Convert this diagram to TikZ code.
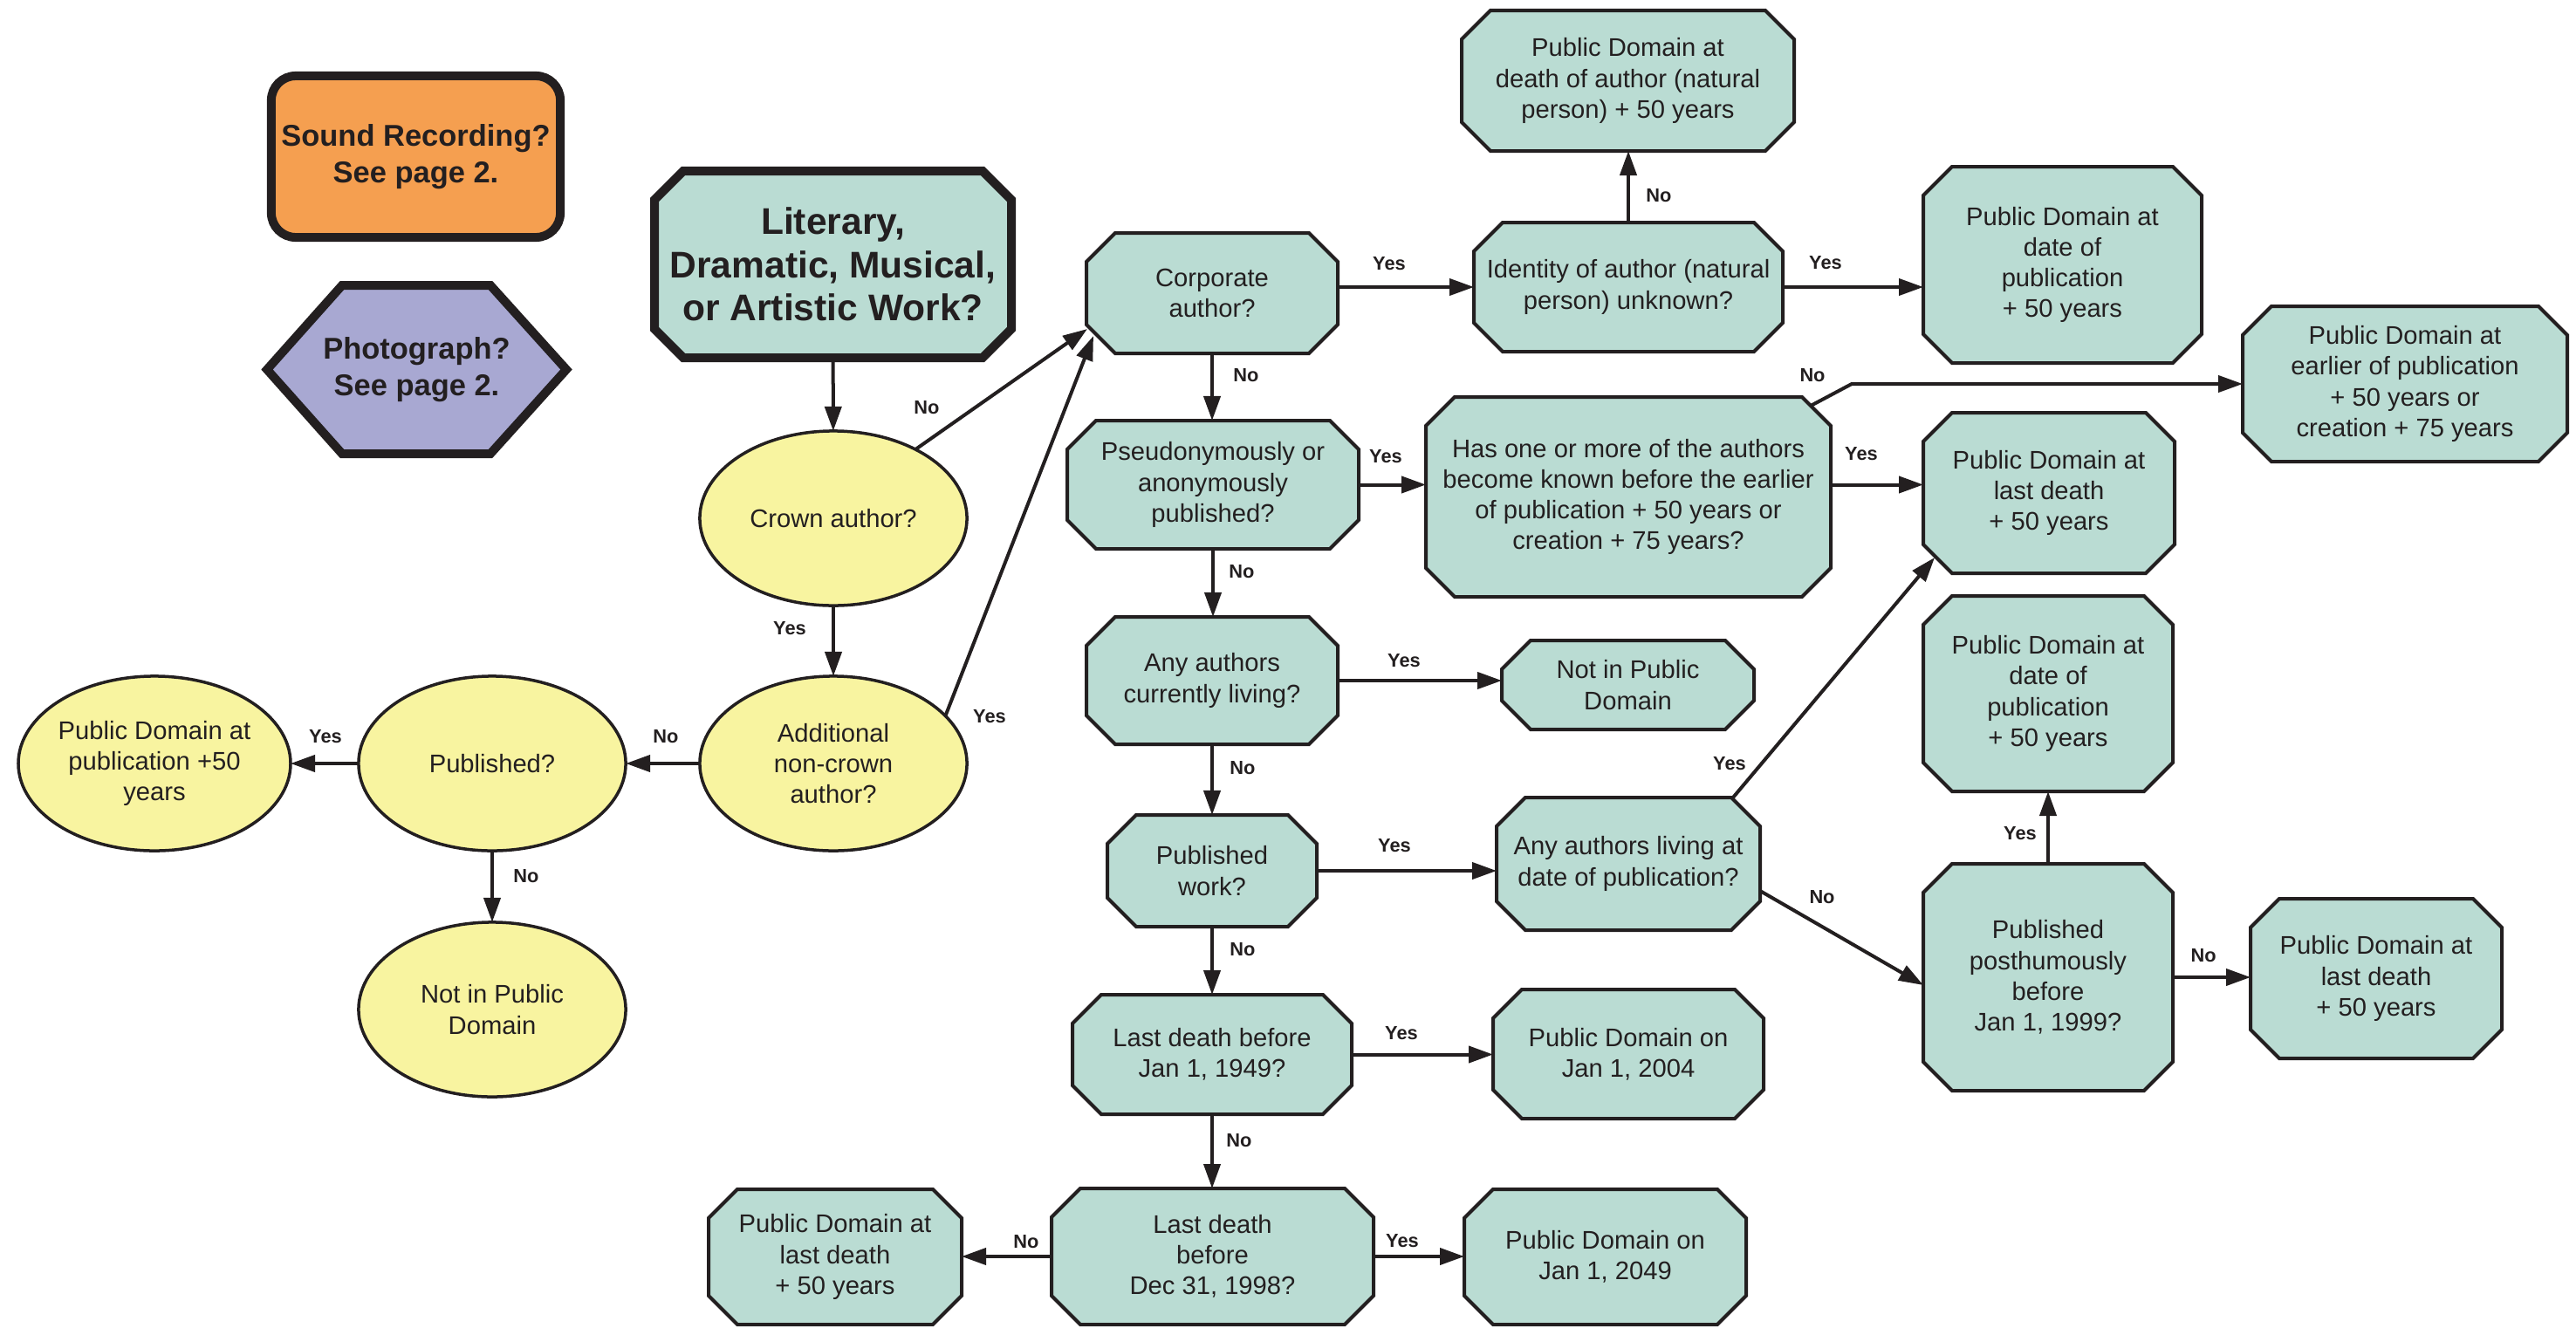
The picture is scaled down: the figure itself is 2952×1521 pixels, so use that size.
\documentclass[tikz,border=0pt]{standalone}
\usepackage{fontspec}
\setmainfont{Liberation Sans}
\usetikzlibrary{arrows.meta,shapes.geometric,calc}
\definecolor{boxg}{RGB}{186,220,211}
\definecolor{elly}{RGB}{248,244,160}
\definecolor{orng}{RGB}{245,159,80}
\definecolor{purp}{RGB}{168,168,210}
\definecolor{ink}{RGB}{35,31,32}
\newcommand{\octbox}[7][]{%
  \path[octo,#1] (#3+33,#4) -- (#5-33,#4) -- (#5,#4+33) -- (#5,#6-33) -- (#5-33,#6) -- (#3+33,#6) -- (#3,#6-33) -- (#3,#4+33) -- cycle;
  \node[boxtxt,#1,minimum width={(#5-#3)*0.01cm},minimum height={(#6-#4)*0.01cm}] (#2) at ({(#3+#5)/2},{(#4+#6)/2}) {#7};%
}
\begin{document}
\begin{tikzpicture}[x=0.01cm,y=-0.01cm,
  octo/.style={draw=ink,line width=0.04cm,fill=boxg,line join=miter},
  boxtxt/.style={inner sep=0pt,outer sep=0pt,align=center,text=ink,font=\fontsize{8.3}{10}\selectfont},
  ell/.style={ellipse,draw=ink,line width=0.035cm,fill=elly,minimum width=3.06cm,minimum height=2.0cm,inner sep=0pt,outer sep=0pt,align=center,text=ink,font=\fontsize{8.3}{10}\selectfont},
  arr/.style={draw=ink,line width=0.04cm,-{Triangle[length=0.28cm,width=0.19cm]}},
  lbl/.style={font=\bfseries\fontsize{6.2}{7}\selectfont,text=ink,inner sep=0pt},
  bigtxt/.style={font=\bfseries\fontsize{9.8}{12}\selectfont}
]
\useasboundingbox (0,0) rectangle (2952,1521);

% left-top legend shapes
\node[draw=ink,line width=0.1cm,fill=orng,rounded corners=0.28cm,minimum width=3.31cm,minimum height=1.85cm,inner sep=0pt,align=center,text=ink,bigtxt] (sound) at (476.5,179.5) {Sound Recording?\\See page 2.};
\path[draw=ink,line width=0.1cm,fill=purp,line join=miter] (306,423.5) -- (392,327) -- (562,327) -- (649,423.5) -- (562,520) -- (392,520) -- cycle;
\node[boxtxt,bigtxt] (photo) at (477.5,424) {Photograph?\\See page 2.};

% start box
\octbox[line width=0.1cm,font=\bfseries\fontsize{12.1}{14}\selectfont]{lit}{750}{196}{1159}{410}{Literary,\\Dramatic, Musical,\\or Artistic Work?}

% ellipses
\node[ell] (crown) at (955,594) {Crown author?};
\node[ell] (addl) at (955,875) {Additional\\non-crown\\author?};
\node[ell] (pubq) at (564,875) {Published?};
\node[ell] (pdpub) at (177,875) {Public Domain at\\publication +50\\years};
\node[ell] (notpdA) at (564,1157) {Not in Public\\Domain};

% octagon boxes
\octbox{death}{1675}{12}{2056}{173}{Public Domain at\\death of author (natural\\person) + 50 years}
\octbox{ident}{1689}{255}{2043}{403}{Identity of author (natural\\person) unknown?}
\octbox{datepubA}{2204}{191}{2523}{416}{Public Domain at\\date of\\publication\\+ 50 years}
\octbox{earlier}{2570}{351}{2942}{529}{Public Domain at\\earlier of publication\\+ 50 years or\\creation + 75 years}
\octbox{corp}{1245}{267}{1533}{405}{Corporate\\author?}
\octbox{pseud}{1223}{482}{1557}{629}{Pseudonymously or\\anonymously\\published?}
\octbox{has}{1634}{455}{2098}{684}{Has one or more of the authors\\become known before the earlier\\of publication + 50 years or\\creation + 75 years?}
\octbox{lastdA}{2204}{473}{2492}{657}{Public Domain at\\last death\\+ 50 years}
\octbox{anyliv}{1245}{707}{1533}{853}{Any authors\\currently living?}
\octbox{notpdB}{1721}{734}{2010}{836}{Not in Public\\Domain}
\octbox{datepubB}{2204}{683}{2490}{907}{Public Domain at\\date of\\publication\\+ 50 years}
\octbox{pubwork}{1269}{934}{1509}{1062}{Published\\work?}
\octbox{livdate}{1715}{914}{2017}{1066}{Any authors living at\\date of publication?}
\octbox{posth}{2204}{990}{2490}{1250}{Published\\posthumously\\before\\Jan 1, 1999?}
\octbox{lastdB}{2579}{1030}{2867}{1213}{Public Domain at\\last death\\+ 50 years}
\octbox{ldA}{1229}{1140}{1549}{1277}{Last death before\\Jan 1, 1949?}
\octbox{pdA}{1711}{1134}{2021}{1282}{Public Domain on\\Jan 1, 2004}
\octbox{ldB}{1205}{1362}{1574}{1518}{Last death\\before\\Dec 31, 1998?}
\octbox{pdB}{1678}{1363}{2001}{1518}{Public Domain on\\Jan 1, 2049}
\octbox{lastdC}{812}{1363}{1102}{1518}{Public Domain at\\last death\\+ 50 years}

% connectors
\draw[arr] (lit) -- (crown);
\draw[arr] (crown) -- (addl);
\draw[arr] (addl) -- (pubq);
\draw[arr] (pubq) -- (pdpub);
\draw[arr] (pubq) -- (notpdA);
\coordinate (corpA) at ([shift={(1,-28)}]corp.south west);
\coordinate (corpB) at ([shift={(8,-20)}]corp.south west);
\draw[arr] (crown.40) -- (corpA);
\draw[arr] (addl.23) -- (corpB);
\draw[arr] (corp.east |- ident.west) -- (ident.west);
\draw[arr] (ident.north) -- (ident.north |- death.south);
\draw[arr] (ident.east) -- (ident.east -| datepubA.west);
\draw[arr] (corp.south) -- (corp.south |- pseud.north);
\draw[arr] (pseud.east) -- (pseud.east -| has.west);
\coordinate (hasNE) at ([shift={(-23,10)}]has.north east);
\draw[arr] (hasNE) -- ($(earlier.west)+(-448,0)$) -- (earlier.west);
\draw[arr] (has.east |- pseud.east) -- (lastdA.west |- pseud.east);
\draw[arr] (pseud.south) -- (pseud.south |- anyliv.north);
\draw[arr] (anyliv.east) -- (anyliv.east -| notpdB.west);
\draw[arr] (anyliv.south) -- (anyliv.south |- pubwork.north);
\draw[arr] (pubwork.east) -- (pubwork.east -| livdate.west);
\coordinate (livNE) at ([shift={(-31,0)}]livdate.north east);
\coordinate (lastdAsw) at ([shift={(13,-18)}]lastdA.south west);
\draw[arr] (livNE) -- (lastdAsw);
\coordinate (livE) at ([shift={(0,31)}]livdate.east);
\coordinate (posthW) at ([shift={(0,9)}]posth.west);
\draw[arr] (livE) -- (posthW);
\draw[arr] (posth.north) -- (posth.north |- datepubB.south);
\draw[arr] (posth.east) -- (posth.east -| lastdB.west);
\draw[arr] (pubwork.south) -- (pubwork.south |- ldA.north);
\draw[arr] (ldA.east) -- (ldA.east -| pdA.west);
\draw[arr] (ldA.south) -- (ldA.south |- ldB.north);
\draw[arr] (ldB.east) -- (ldB.east -| pdB.west);
\draw[arr] (ldB.west) -- (ldB.west -| lastdC.east);

% labels
\node[lbl] (l1) at (1062,467) {No};
\node[lbl] (l2) at (905,720) {Yes};
\node[lbl] (l3) at (1134,821) {Yes};
\node[lbl] (l4) at (763,844) {No};
\node[lbl] (l5) at (373,844) {Yes};
\node[lbl] (l6) at (603,1004) {No};
\node[lbl] (l7) at (1592,302) {Yes};
\node[lbl] (l8) at (1901,224) {No};
\node[lbl] (l9) at (2092,301) {Yes};
\node[lbl] (l10) at (1428,430) {No};
\node[lbl] (l11) at (1588,523) {Yes};
\node[lbl] (l12) at (2077,430) {No};
\node[lbl] (l13) at (2133,520) {Yes};
\node[lbl] (l14) at (1423,655) {No};
\node[lbl] (l15) at (1609,757) {Yes};
\node[lbl] (l16) at (1424,880) {No};
\node[lbl] (l17) at (1598,969) {Yes};
\node[lbl] (l18) at (1982,875) {Yes};
\node[lbl] (l19) at (2088,1028) {No};
\node[lbl] (l20) at (2315,955) {Yes};
\node[lbl] (l21) at (2525,1095) {No};
\node[lbl] (l22) at (1424,1088) {No};
\node[lbl] (l23) at (1606,1184) {Yes};
\node[lbl] (l24) at (1420,1307) {No};
\node[lbl] (l25) at (1607,1422) {Yes};
\node[lbl] (l26) at (1176,1423) {No};
\end{tikzpicture}
\end{document}
